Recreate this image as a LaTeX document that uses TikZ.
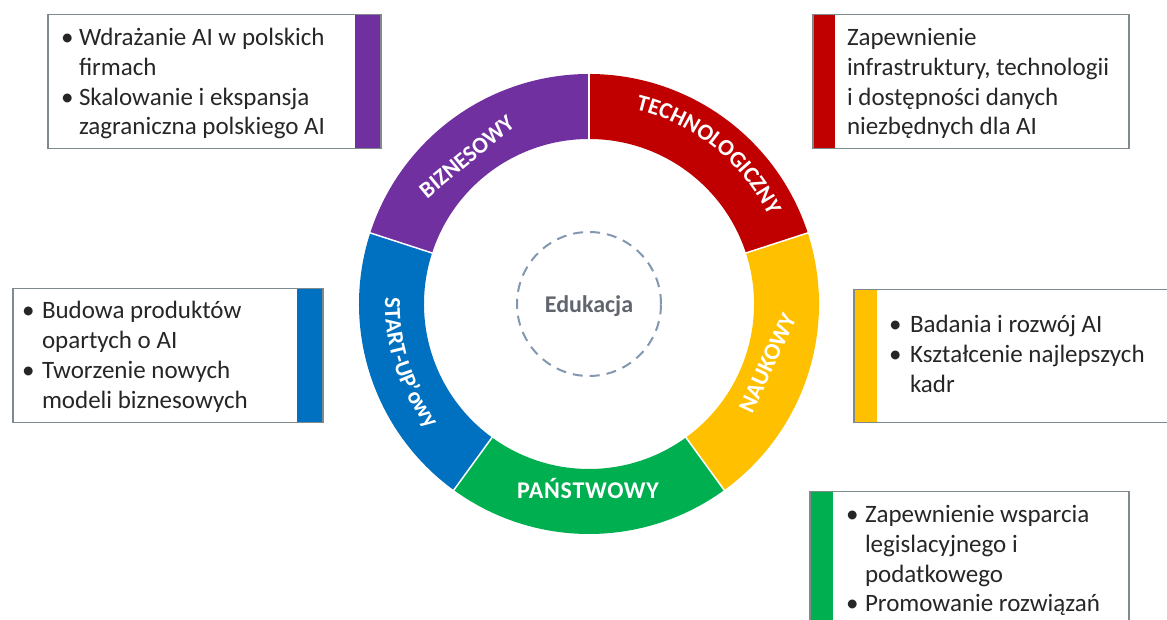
\documentclass[tikz,border=0pt]{standalone}
\usepackage{fontspec}
\setmainfont{Carlito}
\usetikzlibrary{decorations.text}
\definecolor{cpur}{RGB}{112,48,160}
\definecolor{cred}{RGB}{192,0,0}
\definecolor{cyel}{RGB}{255,192,0}
\definecolor{cblu}{RGB}{0,112,192}
\definecolor{cgrn}{RGB}{0,176,80}
\definecolor{cbord}{RGB}{128,138,142}
\definecolor{ctext}{RGB}{38,38,38}
\definecolor{cedu}{RGB}{96,101,110}
\definecolor{cdash}{RGB}{132,151,176}
\newcommand\ringfnt{\bfseries\fontsize{23}{23}\selectfont}
\begin{document}
\begin{tikzpicture}[x=1pt,y=1pt,
 boxst/.style={draw=cbord, line width=1.5pt},
 txt/.style={anchor=base west, inner sep=0pt, outer sep=0pt, text=ctext, font=\fontsize{25}{30}\selectfont},
 ringlab/.style={decorate, decoration={text along path, text align=center, text color=white, text={|\ringfnt|#1}}},
 ringnode/.style={inner sep=0pt, text=white, font=\ringfnt},
 sepline/.style={white, line width=1.5pt}]
\useasboundingbox (0,0) rectangle (1167,620);
\coordinate (C) at (589,316);
% ring segments
\fill[cpur] ([shift={(90:230)}]C) arc[start angle=90,end angle=162,radius=230] -- ([shift={(162:165)}]C) arc[start angle=162,end angle=90,radius=165] -- cycle;
\fill[cblu] ([shift={(162:230)}]C) arc[start angle=162,end angle=234,radius=230] -- ([shift={(234:165)}]C) arc[start angle=234,end angle=162,radius=165] -- cycle;
\fill[cgrn] ([shift={(234:230)}]C) arc[start angle=234,end angle=306,radius=230] -- ([shift={(306:165)}]C) arc[start angle=306,end angle=234,radius=165] -- cycle;
\fill[cyel] ([shift={(306:230)}]C) arc[start angle=306,end angle=378,radius=230] -- ([shift={(378:165)}]C) arc[start angle=378,end angle=306,radius=165] -- cycle;
\fill[cred] ([shift={(18:230)}]C) arc[start angle=18,end angle=90,radius=230] -- ([shift={(90:165)}]C) arc[start angle=90,end angle=18,radius=165] -- cycle;
\foreach \a in {18,90,162,234,306}{
  \draw[sepline] ([shift={(\a:163)}]C) -- ([shift={(\a:232)}]C);
}
% ring labels
\path[ringlab=TECHNOLOGICZNY] ([shift={(99.3:200)}]C) arc[start angle=99.3,end angle=3.3,radius=200];
\path[ringlab=START-UP’owy] ([shift={(160:204)}]C) arc[start angle=160,end angle=236,radius=204];
\node[ringnode, rotate=39.5] (lbiz) at (466.7,463.3) {BIZNESOWY};
\node[ringnode, rotate=65, font=\bfseries\fontsize{23.5}{23.5}\selectfont] (lnau) at (767.5,257) {NAUKOWY};
\node[ringnode, anchor=base, font=\bfseries\fontsize{24}{24}\selectfont\addfontfeatures{LetterSpace=3}] (lpan) at (588,121) {PAŃSTWOWY};
% centre
\node[circle, draw=cdash, line width=2pt, dash pattern=on 10pt off 7pt, minimum size=144pt, inner sep=0pt] (educ) at (C) {};
\node[font=\bfseries\fontsize{24}{24}\selectfont, text=cedu] (edu) at ([yshift=-2]C) {Edukacja};
% box 1 (purple)
\fill[cpur] (355,606) rectangle (380,472);
\node[boxst, anchor=north west, minimum width=333pt, minimum height=134pt, inner sep=0pt] (bx1) at (47,606) {};
\node[txt] (b1d1) at (61,574) {•};
\node[txt] (b1l1) at (79,574) {Wdrażanie AI w polskich};
\node[txt] (b1l2) at (79,544) {firmach};
\node[txt] (b1d2) at (61,514.5) {•};
\node[txt] (b1l3) at (79,514.5) {Skalowanie i ekspansja};
\node[txt] (b1l4) at (79,485) {zagraniczna polskiego AI};
% box 2 (red)
\fill[cred] (812,606) rectangle (835,472);
\node[boxst, anchor=north west, minimum width=316pt, minimum height=134pt, inner sep=0pt] (bx2) at (812,606) {};
\node[txt] (b2l1) at (847,574) {Zapewnienie};
\node[txt] (b2l2) at (847,544) {infrastruktury, technologii};
\node[txt] (b2l3) at (847,514.5) {i dostępności danych};
\node[txt] (b2l4) at (847,485) {niezbędnych dla AI};
% box 3 (blue)
\fill[cblu] (297,332) rectangle (322,198);
\node[boxst, anchor=north west, minimum width=310pt, minimum height=134pt, inner sep=0pt] (bx3) at (12,332) {};
\node[txt] (b3d1) at (22,301) {•};
\node[txt] (b3l1) at (42,301) {Budowa produktów};
\node[txt] (b3l2) at (42,271) {opartych o AI};
\node[txt] (b3d2) at (22,241) {•};
\node[txt] (b3l3) at (42,241) {Tworzenie nowych};
\node[txt] (b3l4) at (42,211) {modeli biznesowych};
% box 4 (yellow) and box 5 (green), cut by the page edge
\begin{scope}
\clip (0,0) rectangle (1167,620);
\fill[cyel] (853,331) rectangle (877,198);
\node[boxst, anchor=north west, minimum width=330pt, minimum height=133pt, inner sep=0pt] (bx4) at (853,331) {};
\fill[cgrn] (809,129) rectangle (833,-10);
\node[boxst, anchor=north west, minimum width=319pt, minimum height=139pt, inner sep=0pt] (bx5) at (809,129) {};
\end{scope}
\node[txt] (b4d1) at (889,287) {•};
\node[txt] (b4l1) at (910,287) {Badania i rozwój AI};
\node[txt] (b4d2) at (889,257) {•};
\node[txt] (b4l2) at (910,257) {Kształcenie najlepszych};
\node[txt] (b4l3) at (910,227) {kadr};
\node[txt] (b5d1) at (846,97.5) {•};
\node[txt] (b5l1) at (865,97.5) {Zapewnienie wsparcia};
\node[txt] (b5l2) at (865,67.5) {legislacyjnego i};
\node[txt] (b5l3) at (865,37.5) {podatkowego};
\node[txt] (b5d2) at (846,8) {•};
\node[txt] (b5l4) at (865,8) {Promowanie rozwiązań};
\end{tikzpicture}
\end{document}
